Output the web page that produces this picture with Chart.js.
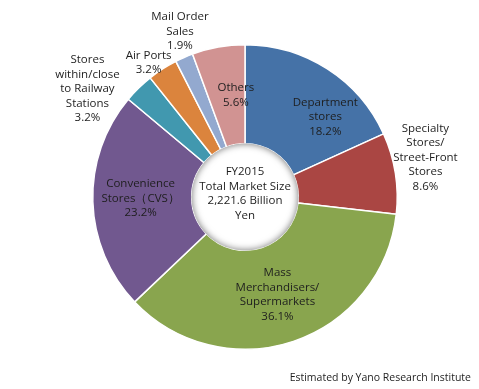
<!DOCTYPE html>
<html>
<head>
<meta charset="utf-8">
<script src="https://cdn.jsdelivr.net/npm/chart.js@4.4.0/dist/chart.umd.min.js"></script>
<style>
    html, body { margin: 0; padding: 0; background: #fff; }
    #wrap { width: 479px; height: 389px; position: relative; }
</style>
</head>
<body>
<div id="wrap"><canvas id="myChart" width="479" height="389"></canvas></div>
<script>
// channel shares, FY2015 (clockwise from 12 o'clock)
const categories = [
    ['Department', 'stores'],
    ['Specialty', 'Stores/', 'Street-Front', 'Stores'],
    ['Mass', 'Merchandisers/', 'Supermarkets'],
    ['Convenience', 'Stores（CVS）'],
    ['Stores', 'within/close', 'to Railway', 'Stations'],
    ['Air Ports'],
    ['Mail Order', 'Sales'],
    ['Others']
]
const shares = [18.2, 8.6, 36.1, 23.2, 3.2, 3.2, 1.9, 5.6]
const colors = ['#4572A7', '#AA4643', '#89A54E', '#71588F', '#4198AF', '#DB843D', '#93A9CF', '#D19392']
const centerText = ['FY2015', 'Total Market Size', '2,221.6 Billion', 'Yen']
const source = 'Estimated by Yano Research Institute'

// label placement: radius as fraction of outer radius along slice mid angle, plus nudge
const labelPos = [
    { r: 0.72, dx: 21, dy: 12 },
    { r: 1.20, dx: 0, dy: -11 },
    { r: 0.67, dx: 0, dy: 1 },
    { r: 0.686, dx: 0, dy: -2 },
    { r: 1.20, dx: -30, dy: 23 },
    { r: 1.00, dx: -14, dy: -6 },
    { r: 1.15, dx: 5, dy: -5 },
    { r: 0.68, dx: 9, dy: 0 }
]

const FONT = '11.5px "Open Sans", "Liberation Sans", Arial, sans-serif'
const LINE = 14.5

const labelPlugin = {
    id: 'labels',
    afterDatasetsDraw(chart) {
        const ctx = chart.ctx
        const meta = chart.getDatasetMeta(0)
        const arc0 = meta.data[0]
        const cx = arc0.x, cy = arc0.y
        const R = arc0.outerRadius, r0 = arc0.innerRadius

        // soft inner shadow round the hole
        ctx.save()
        ctx.beginPath()
        ctx.arc(cx, cy, r0, 0, Math.PI * 2)
        ctx.clip()
        ctx.beginPath()
        ctx.arc(cx, cy, r0 + 5, 0, Math.PI * 2)
        ctx.lineWidth = 10
        ctx.strokeStyle = 'rgba(120,120,120,1)'
        ctx.shadowColor = 'rgba(0,0,0,0.55)'
        ctx.shadowBlur = 7
        ctx.stroke()
        ctx.restore()

        ctx.save()
        ctx.font = FONT
        ctx.fillStyle = '#1e1e1e'
        ctx.textAlign = 'center'
        ctx.textBaseline = 'middle'

        meta.data.forEach((arc, i) => {
            const mid = (arc.startAngle + arc.endAngle) / 2
            const p = labelPos[i]
            const x = cx + Math.cos(mid) * R * p.r + p.dx
            const y = cy + Math.sin(mid) * R * p.r + p.dy
            const lines = categories[i].concat([shares[i].toFixed(1) + '%'])
            const top = y - (lines.length - 1) * LINE / 2
            lines.forEach((t, j) => ctx.fillText(t, x, top + j * LINE))
        })

        const ctop = cy - 3.5 - (centerText.length - 1) * LINE / 2
        centerText.forEach((t, j) => ctx.fillText(t, cx, ctop + j * LINE))

        ctx.font = '10.5px "Open Sans", "Liberation Sans", Arial, sans-serif'
        ctx.textAlign = 'right'
        ctx.fillText(source, chart.width - 8, 378)
        ctx.restore()
    }
}

const ctx = document.getElementById('myChart').getContext('2d')
new Chart(ctx, {
    type: 'doughnut',
    data: {
        labels: categories.map(c => c.join(' ')),
        datasets: [{
            data: shares,
            backgroundColor: colors,
            borderColor: '#ffffff',
            borderWidth: 1.5
        }]
    },
    options: {
        responsive: false,
        animation: false,
        cutout: '35%',
        layout: { padding: { left: 92, right: 81, top: 44, bottom: 39 } },
        plugins: {
            legend: { display: false },
            tooltip: { enabled: false }
        }
    },
    plugins: [labelPlugin]
})
</script>
</body>
</html>
